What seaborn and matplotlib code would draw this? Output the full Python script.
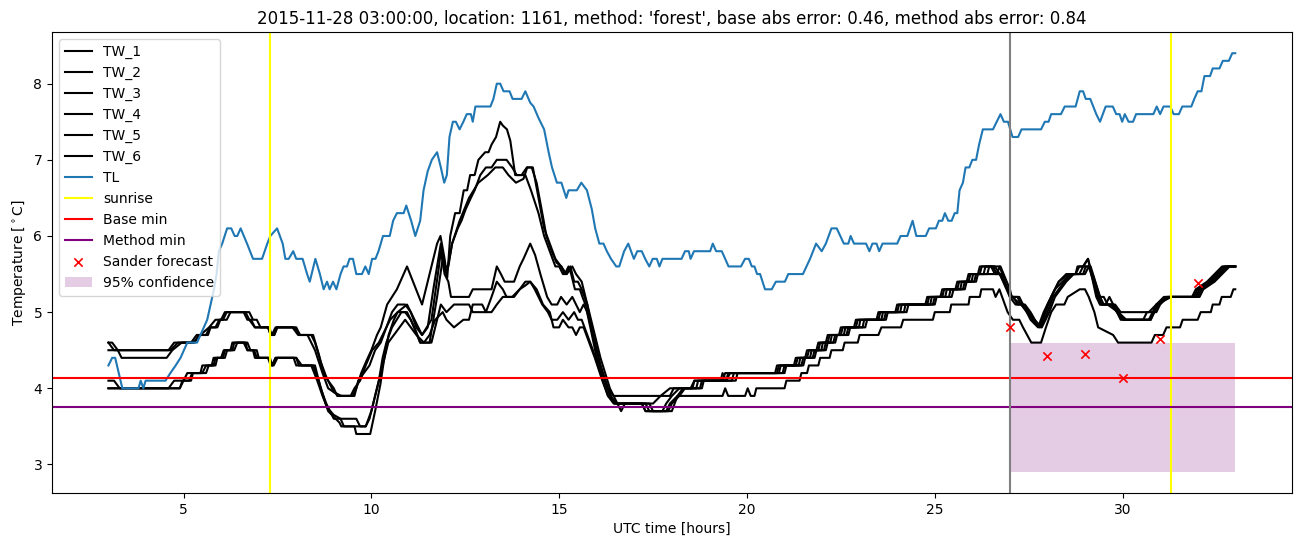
import matplotlib
matplotlib.use("Agg")
import matplotlib.pyplot as plt
import seaborn as sns
import pandas as pd

# ---------------- data (hours UTC, degC) ----------------
TL = [(3.0,4.3),(3.1,4.4),(3.18,4.4),(3.37,4.0),(3.8,4.0),(3.86,4.1),(3.93,4.0),(3.99,4.1),(4.52,4.1),
      (4.65,4.2),(4.79,4.3),(4.92,4.4),(5.01,4.5),(5.1,4.6),(5.36,4.6),(5.45,4.7),(5.54,4.8),(5.63,4.9),
      (5.72,5.1),(5.81,5.3),(5.88,5.5),(5.94,5.8),(6.03,5.9),(6.16,6.1),(6.27,6.1),(6.36,6.0),(6.43,6.0),
      (6.52,6.1),(6.69,5.9),(6.85,5.7),(7.09,5.7),(7.23,5.9),(7.31,6.0),(7.49,6.1),(7.64,5.9),(7.71,5.7),
      (7.80,5.7),(7.92,5.8),(8.0,5.7),(8.17,5.7),(8.29,5.5),(8.36,5.4),(8.51,5.7),(8.63,5.5),(8.73,5.3),
      (8.82,5.4),(8.89,5.3),(8.98,5.4),(9.07,5.3),(9.18,5.5),(9.26,5.6),(9.35,5.6),(9.42,5.7),(9.51,5.7),
      (9.60,5.5),(9.75,5.5),(9.84,5.6),(9.93,5.5),(10.02,5.7),(10.11,5.7),(10.19,5.8),(10.31,6.0),
      (10.49,6.0),(10.58,6.2),(10.68,6.3),(10.86,6.3),(10.93,6.4),(11.06,6.2),(11.17,6.0),(11.30,6.2),
      (11.39,6.6),(11.50,6.85),(11.61,7.0),(11.75,7.1),(11.85,6.9),(11.94,6.7),(12.01,6.8),(12.08,7.3),
      (12.17,7.5),(12.25,7.5),(12.35,7.4),(12.45,7.5),(12.54,7.6),(12.65,7.6),(12.70,7.5),(12.77,7.7),
      (13.17,7.7),(13.25,7.8),(13.34,8.0),(13.43,8.0),(13.52,7.9),(13.68,7.9),(13.76,7.8),(14.0,7.8),
      (14.1,7.9),(14.23,7.75),(14.32,7.7),(14.45,7.55),(14.60,7.4),(14.72,7.1),(14.81,6.9),(14.94,6.7),
      (15.06,6.7),(15.19,6.5),(15.25,6.6),(15.47,6.6),(15.59,6.7),(15.74,6.6),(15.87,6.35),(15.96,6.1),
      (16.07,5.9),(16.18,5.9),(16.27,5.8),(16.38,5.7),(16.52,5.6),(16.6,5.6),(16.73,5.8),(16.84,5.9),
      (16.99,5.7),(17.08,5.8),(17.2,5.8),(17.29,5.7),(17.40,5.6),(17.49,5.7),(17.6,5.7),(17.67,5.6),
      (17.75,5.7),(18.26,5.7),(18.35,5.8),(18.45,5.8),(18.50,5.7),(18.59,5.8),(19.02,5.8),(19.09,5.9),
      (19.18,5.8),(19.33,5.8),(19.51,5.6),(19.84,5.6),(19.95,5.7),(20.05,5.7),(20.13,5.6),(20.2,5.6),
      (20.27,5.5),(20.35,5.5),(20.48,5.3),(20.66,5.3),(20.77,5.4),(21.01,5.4),(21.10,5.5),(21.49,5.5),
      (21.68,5.7),(21.84,5.9),(21.99,5.8),(22.1,5.9),(22.25,6.1),(22.39,6.1),(22.58,5.9),(22.7,5.9),
      (22.76,6.0),(22.85,5.9),(23.17,5.9),(23.26,5.8),(23.34,5.9),(23.45,5.9),(23.52,5.8),(23.61,5.9),
      (24.0,5.9),(24.09,6.0),(24.27,6.0),(24.41,6.2),(24.51,6.0),(24.76,6.0),(24.85,6.1),(25.03,6.1),
      (25.11,6.2),(25.2,6.2),(25.27,6.3),(25.36,6.2),(25.45,6.2),(25.53,6.3),(25.6,6.3),(25.66,6.6),
      (25.75,6.7),(25.82,6.9),(25.92,6.9),(26.0,7.0),(26.1,7.0),(26.18,7.2),(26.28,7.4),(26.55,7.4),
      (26.75,7.6),(26.84,7.5),(26.95,7.5),(27.07,7.3),(27.22,7.3),(27.31,7.4),(27.83,7.4),(27.93,7.5),
      (28.03,7.5),(28.10,7.6),(28.36,7.6),(28.46,7.7),(28.75,7.7),(28.86,7.9),(28.95,7.9),(29.02,7.8),
      (29.14,7.8),(29.30,7.6),(29.40,7.5),(29.55,7.7),(29.74,7.7),(29.83,7.6),(29.92,7.6),(29.99,7.5),
      (30.06,7.6),(30.16,7.5),(30.28,7.5),(30.36,7.6),(30.82,7.6),(30.91,7.7),(31.0,7.6),(31.09,7.7),
      (31.27,7.7),(31.36,7.6),(31.50,7.6),(31.59,7.7),(31.83,7.7),(31.91,7.8),(32.0,7.9),(32.1,7.9),
      (32.18,8.1),(32.33,8.1),(32.40,8.2),(32.58,8.2),(32.67,8.3),(32.83,8.3),(32.92,8.4),(33.0,8.4)]

TW_1 = [(3.0,4.6),(3.1,4.6),(3.25,4.5),(3.35,4.4),(4.55,4.4),(4.7,4.5),(4.95,4.6),(5.3,4.6),(5.4,4.7),
        (5.65,4.7),(5.72,4.8),(5.9,4.8),(5.98,4.9),(6.15,4.9),(6.25,5.0),(6.75,5.0),(6.85,4.9),(6.95,4.9),
        (7.05,4.8),(7.25,4.8),(7.32,4.7),(7.4,4.7),(7.48,4.8),(8.0,4.8),(8.1,4.7),(8.45,4.7),(8.6,4.45),
        (8.73,4.2),(8.85,4.1),(9.0,4.0),(9.09,3.9),(9.5,3.9),(9.6,4.0),(9.73,4.2),(9.86,4.35),(10.0,4.5),
        (10.15,4.7),(10.25,4.8),(10.42,5.1),(10.68,5.3),(10.95,5.6),(11.15,5.35),(11.35,5.1),(11.55,5.5),
        (11.75,5.9),(11.84,6.0),(11.95,5.7),(12.02,5.45),(12.1,6.0),(12.23,6.3),(12.35,6.3),(12.46,6.6),
        (12.55,6.6),(12.63,6.8),(12.75,6.8),(12.85,7.0),(13.03,7.1),(13.12,7.1),(13.2,7.2),(13.32,7.3),
        (13.43,7.5),(13.5,7.45),(13.61,7.4),(13.7,7.25),(13.83,6.8),(14.0,6.8),(14.14,6.9),(14.27,6.9),
        (14.4,6.7),(14.57,6.25),(14.66,6.0),(14.8,5.8),(14.93,5.65),(15.06,5.6),(15.15,5.5),(15.25,5.6),
        (15.32,5.5),(15.42,5.3),(15.55,5.3),(15.62,5.2),(15.7,5.1),(15.83,4.8),(16.0,4.4),(16.29,4.0),
        (16.47,3.8),(17.5,3.8),(17.7,3.9),(17.95,4.0),(18.5,4.0),(18.6,4.1),(19.35,4.1),(19.42,4.2),
        (20.8,4.2),(20.85,4.3),(21.3,4.3),(21.35,4.4),(21.6,4.4),(21.65,4.5),(21.9,4.5),(21.95,4.6),
        (22.15,4.6),(22.2,4.7),(22.5,4.7),(22.55,4.8),(22.9,4.8),(22.95,4.9),(23.5,4.9),(23.55,5.0),
        (24.0,5.0),(24.05,5.1),(24.8,5.1),(24.85,5.2),(25.2,5.2),(25.25,5.3),(25.6,5.3),(25.65,5.4),
        (25.9,5.4),(25.95,5.5),(26.2,5.5),(26.25,5.6),(26.55,5.6),(26.65,5.5),(26.73,5.6),(27.0,5.2),
        (27.1,5.2),(27.2,5.1),(27.4,5.1),(27.55,5.0),(27.78,4.8),(28.0,5.1),(28.3,5.4),(28.55,5.5),
        (28.75,5.5),(28.85,5.6),(28.95,5.6),(29.08,5.7),(29.4,5.1),(29.6,5.1),(29.88,5.0),(30.1,4.9),
        (30.75,4.9),(30.9,5.1),(31.17,5.2),(31.9,5.2),(32.0,5.3),(32.3,5.4),(32.5,5.5),(32.7,5.6),(33.0,5.6)]

TW_2 = [(3.0,4.5),(4.6,4.5),(4.75,4.6),(5.25,4.6),(5.45,4.7),(5.68,4.8),(5.85,4.9),(6.0,4.9),(6.1,5.0),
        (6.65,5.0),(6.75,4.9),(6.9,4.8),(7.28,4.8),(7.35,4.7),(7.45,4.8),(7.95,4.8),(8.1,4.7),(8.4,4.7),
        (8.5,4.6),(8.65,4.35),(8.8,4.15),(9.0,3.95),(9.15,3.9),(9.45,3.9),(9.55,4.0),(9.7,4.1),(9.85,4.3),
        (10.02,4.5),(10.2,4.6),(10.3,4.7),(10.5,4.9),(10.7,5.0),(10.95,5.1),(11.15,4.9),(11.35,4.7),
        (11.5,4.8),(11.65,5.3),(11.85,5.9),(11.95,5.6),(12.05,5.6),(12.15,5.9),(12.3,6.1),(12.4,6.2),
        (12.51,6.35),(12.65,6.5),(12.75,6.6),(12.9,6.8),(13.05,6.9),(13.2,6.9),(13.34,7.0),(13.6,7.0),
        (13.75,6.9),(13.87,6.8),(14.1,6.8),(14.25,6.6),(14.45,6.3),(14.6,6.0),(14.75,5.8),(14.9,5.6),
        (15.0,5.6),(15.1,5.5),(15.2,5.5),(15.3,5.6),(15.4,5.4),(15.5,5.4),(15.6,5.3),(15.75,5.1),(15.9,4.7),
        (16.1,4.3),(16.35,3.9),(16.55,3.8),(17.2,3.8),(17.3,3.7),(17.75,3.7),(17.85,3.8),(18.0,3.9),
        (18.2,4.0),(18.65,4.0),(18.7,4.1),(19.45,4.1),(19.5,4.2),(20.85,4.2),(20.9,4.3),(21.38,4.3),
        (21.42,4.4),(21.68,4.4),(21.72,4.5),(21.98,4.5),(22.02,4.6),(22.22,4.6),(22.26,4.7),(22.58,4.7),
        (22.62,4.8),(22.98,4.8),(23.02,4.9),(23.58,4.9),(23.62,5.0),(24.08,5.0),(24.12,5.1),(24.88,5.1),
        (24.92,5.2),(25.28,5.2),(25.32,5.3),(25.68,5.3),(25.72,5.4),(25.98,5.4),(26.02,5.5),(26.3,5.5),
        (26.35,5.6),(26.5,5.6),(26.6,5.5),(26.73,5.5),(27.05,5.2),(27.2,5.2),(27.3,5.1),(27.45,5.0),
        (27.6,4.9),(27.8,4.8),(27.95,5.0),(28.1,5.2),(28.2,5.3),(28.4,5.4),(28.6,5.5),(28.85,5.5),
        (28.95,5.6),(29.1,5.6),(29.35,5.2),(29.45,5.1),(29.7,5.1),(29.85,5.0),(30.0,4.9),(30.55,4.9),
        (30.65,5.0),(30.9,5.0),(31.0,5.1),(31.2,5.2),(31.95,5.2),(32.05,5.3),(32.35,5.4),(32.55,5.5),
        (32.75,5.6),(33.0,5.6)]

TW_3 = [(3.0,4.1),(3.15,4.1),(3.3,4.0),(4.9,4.0),(5.0,4.1),(5.2,4.1),(5.25,4.2),(5.6,4.2),(5.67,4.3),
        (5.85,4.3),(5.9,4.4),(6.1,4.4),(6.16,4.5),(6.35,4.5),(6.43,4.6),(6.7,4.6),(6.78,4.5),(6.95,4.5),
        (7.0,4.4),(7.27,4.4),(7.36,4.3),(7.45,4.4),(8.0,4.4),(8.07,4.3),(8.4,4.3),(8.56,4.1),(8.7,3.9),
        (8.82,3.75),(9.0,3.65),(9.18,3.6),(9.27,3.5),(9.55,3.5),(9.6,3.4),(9.97,3.4),(10.1,3.7),
        (10.24,4.05),(10.33,4.35),(10.46,4.7),(10.6,4.9),(10.7,5.0),(10.9,5.0),(11.05,4.9),(11.3,4.6),
        (11.55,4.6),(11.75,5.2),(11.9,5.7),(12.0,5.5),(12.15,5.9),(12.35,6.2),(12.6,6.5),(12.85,6.7),
        (13.1,6.8),(13.3,6.9),(13.5,6.9),(13.65,6.8),(13.85,6.7),(14.05,6.75),(14.15,6.9),(14.3,6.9),
        (14.45,6.5),(14.6,6.1),(14.75,5.9),(14.9,5.7),(15.05,5.6),(15.2,5.5),(15.35,5.6),(15.45,5.5),
        (15.6,5.4),(15.75,5.1),(15.9,4.8),(16.1,4.4),(16.35,4.0),(16.55,3.8),(16.65,3.7),(16.75,3.8),
        (17.3,3.8),(17.4,3.7),(17.85,3.7),(17.95,3.8),(18.15,3.9),(18.3,4.0),(18.75,4.0),(18.8,4.1),
        (19.6,4.1),(19.65,4.2),(20.95,4.2),(21.0,4.3),(21.45,4.3),(21.5,4.4),(21.75,4.4),(21.8,4.5),
        (22.05,4.5),(22.1,4.6),(22.3,4.6),(22.35,4.7),(22.65,4.7),(22.7,4.8),(23.08,4.8),(23.12,4.9),
        (23.65,4.9),(23.7,5.0),(24.18,5.0),(24.22,5.1),(24.95,5.1),(25.0,5.2),(25.38,5.2),(25.42,5.3),
        (25.75,5.3),(25.8,5.4),(26.05,5.4),(26.1,5.5),(26.4,5.5),(26.45,5.6),(26.75,5.6),(27.0,5.3),
        (27.05,5.2),(27.25,5.2),(27.35,5.1),(27.5,5.0),(27.65,4.9),(27.83,4.8),(28.0,5.0),(28.15,5.2),
        (28.3,5.3),(28.45,5.4),(28.65,5.5),(28.95,5.5),(29.02,5.6),(29.15,5.6),(29.4,5.2),(29.5,5.1),
        (29.75,5.1),(29.9,5.0),(30.05,4.9),(30.75,4.9),(30.85,5.0),(30.95,5.1),(31.25,5.2),(32.0,5.2),
        (32.1,5.3),(32.4,5.4),(32.6,5.5),(32.8,5.6),(33.0,5.6)]

TW_4 = [(3.0,4.6),(3.15,4.5),(4.65,4.5),(4.85,4.6),(5.2,4.6),(5.35,4.7),(5.6,4.7),(5.7,4.8),(5.85,4.8),
        (5.95,4.9),(6.05,4.9),(6.15,5.0),(6.6,5.0),(6.7,4.9),(6.8,4.9),(6.9,4.8),(7.25,4.8),(7.32,4.7),
        (7.42,4.7),(7.5,4.8),(7.9,4.8),(8.05,4.7),(8.3,4.7),(8.5,4.5),(8.7,4.2),(8.85,4.0),(9.0,3.95),
        (9.2,3.9),(9.55,3.9),(9.65,4.1),(9.8,4.2),(9.95,4.3),(10.1,4.5),(10.25,4.6),(10.4,4.8),(10.55,5.0),
        (10.7,5.1),(10.9,5.1),(11.05,5.0),(11.2,4.8),(11.35,4.7),(11.6,4.9),(11.8,5.6),(11.85,5.8),
        (11.95,5.5),(12.05,5.4),(12.12,5.2),(12.6,5.2),(12.7,5.3),(13.2,5.3),(13.34,5.6),(13.45,5.5),
        (13.55,5.4),(13.8,5.4),(13.95,5.6),(14.05,5.7),(14.23,5.9),(14.36,5.75),(14.5,5.5),(14.68,5.2),
        (14.8,5.1),(14.95,5.1),(15.05,5.2),(15.2,5.1),(15.35,5.2),(15.45,5.1),(15.55,5.0),(15.65,5.1),
        (15.75,5.0),(15.9,4.7),(16.1,4.3),(16.3,4.0),(16.45,3.9),(17.95,3.9),(18.05,4.0),(18.55,4.0),
        (18.6,4.1),(19.3,4.1),(19.35,4.2),(19.45,4.1),(19.55,4.2),(20.75,4.2),(20.8,4.3),(21.25,4.3),
        (21.3,4.4),(21.55,4.4),(21.6,4.5),(21.85,4.5),(21.9,4.6),(22.1,4.6),(22.15,4.7),(22.45,4.7),
        (22.5,4.8),(22.85,4.8),(22.9,4.9),(23.45,4.9),(23.5,5.0),(23.95,5.0),(24.0,5.1),(24.75,5.1),
        (24.8,5.2),(25.15,5.2),(25.2,5.3),(25.55,5.3),(25.6,5.4),(25.85,5.4),(25.9,5.5),(26.15,5.5),
        (26.2,5.6),(26.6,5.6),(26.73,5.5),(27.0,5.2),(27.15,5.1),(27.35,5.1),(27.45,5.0),(27.55,4.9),
        (27.75,4.8),(27.9,5.0),(28.0,5.1),(28.1,5.2),(28.2,5.3),(28.3,5.4),(28.5,5.5),(28.75,5.5),
        (28.8,5.6),(28.95,5.6),(29.08,5.7),(29.3,5.2),(29.4,5.1),(29.55,5.1),(29.65,5.2),(29.75,5.1),
        (29.85,5.0),(29.95,4.9),(30.7,4.9),(30.8,5.0),(30.9,5.1),(31.1,5.2),(31.85,5.2),(31.95,5.3),
        (32.25,5.4),(32.45,5.5),(32.65,5.6),(33.0,5.6)]

TW_5 = [(3.0,4.0),(4.6,4.0),(4.75,4.1),(5.0,4.1),(5.1,4.2),(5.45,4.2),(5.5,4.3),(5.8,4.3),(5.85,4.4),
        (6.05,4.4),(6.1,4.5),(6.3,4.5),(6.35,4.6),(6.65,4.6),(6.7,4.5),(6.88,4.5),(6.95,4.4),(7.25,4.4),
        (7.32,4.3),(7.4,4.3),(7.5,4.4),(7.93,4.4),(8.0,4.3),(8.45,4.3),(8.6,4.1),(8.75,3.85),(8.85,3.7),
        (9.05,3.6),(9.15,3.55),(9.2,3.5),(9.85,3.5),(9.95,3.6),(10.05,3.8),(10.2,4.1),(10.3,4.4),(10.4,4.6),
        (10.55,4.8),(10.8,5.0),(10.95,5.0),(11.15,4.8),(11.3,4.6),(11.6,4.6),(11.75,4.9),(11.85,5.1),
        (12.0,5.0),(12.2,5.1),(12.6,5.1),(12.7,5.0),(13.05,5.0),(13.2,5.2),(13.34,5.4),(13.5,5.3),
        (13.6,5.2),(13.8,5.2),(13.95,5.3),(14.1,5.35),(14.23,5.4),(14.35,5.3),(14.55,5.1),(14.7,5.0),
        (14.8,4.9),(14.95,4.9),(15.1,5.0),(15.25,4.9),(15.4,5.0),(15.5,4.9),(15.6,4.9),(15.75,4.7),
        (15.9,4.5),(16.1,4.2),(16.3,3.9),(16.45,3.8),(17.4,3.8),(17.5,3.7),(17.9,3.7),(18.0,3.8),
        (18.2,3.9),(18.35,4.0),(18.8,4.0),(18.85,4.1),(19.7,4.1),(19.75,4.2),(21.0,4.2),(21.05,4.3),
        (21.5,4.3),(21.55,4.4),(21.8,4.4),(21.85,4.5),(22.1,4.5),(22.15,4.6),(22.35,4.6),(22.4,4.7),
        (22.7,4.7),(22.75,4.8),(23.15,4.8),(23.2,4.9),(23.7,4.9),(23.75,5.0),(24.25,5.0),(24.3,5.1),
        (25.0,5.1),(25.05,5.2),(25.45,5.2),(25.5,5.3),(25.8,5.3),(25.85,5.4),(26.1,5.4),(26.15,5.5),
        (26.75,5.5),(27.05,5.2),(27.3,5.1),(27.5,5.0),(27.65,4.9),(27.85,4.8),(28.05,5.0),(28.2,5.2),
        (28.35,5.3),(28.5,5.4),(28.7,5.5),(29.0,5.5),(29.1,5.6),(29.2,5.5),(29.4,5.2),(29.5,5.2),
        (29.6,5.1),(29.8,5.1),(29.95,5.0),(30.7,5.0),(30.9,5.1),(31.3,5.2),(32.05,5.2),(32.15,5.3),
        (32.45,5.4),(32.65,5.5),(32.85,5.6),(33.0,5.6)]

TW_6 = [(3.0,4.0),(4.9,4.0),(4.97,4.1),(5.15,4.1),(5.23,4.2),(5.5,4.2),(5.6,4.3),(5.75,4.3),(5.8,4.4),
        (6.0,4.4),(6.07,4.5),(6.25,4.5),(6.3,4.6),(6.6,4.6),(6.7,4.5),(6.85,4.5),(6.9,4.4),(7.3,4.4),
        (7.36,4.3),(7.45,4.4),(8.0,4.4),(8.15,4.3),(8.5,4.3),(8.65,4.0),(8.8,3.8),(8.9,3.7),(9.0,3.6),
        (9.6,3.6),(9.7,3.5),(9.85,3.5),(10.0,3.7),(10.15,4.0),(10.3,4.3),(10.45,4.6),(10.6,4.7),(10.75,4.8),
        (10.9,4.9),(11.05,4.8),(11.2,4.7),(11.4,4.6),(11.55,4.7),(11.7,4.9),(11.9,5.0),(12.0,4.9),
        (12.2,4.8),(12.45,4.9),(12.6,4.9),(12.7,5.1),(12.95,5.1),(13.05,5.0),(13.2,5.0),(13.34,5.1),
        (13.5,5.2),(13.75,5.2),(13.95,5.3),(14.1,5.4),(14.23,5.4),(14.4,5.3),(14.57,5.1),(14.75,5.0),
        (14.85,4.8),(15.0,4.8),(15.1,4.9),(15.25,4.8),(15.35,4.8),(15.45,4.7),(15.55,4.8),(15.65,4.8),
        (15.8,4.6),(15.95,4.4),(16.15,4.1),(16.3,3.9),(16.5,3.8),(17.2,3.8),(17.3,3.7),(18.0,3.7),
        (18.15,3.9),(19.35,3.9),(19.42,4.0),(19.5,3.9),(19.95,3.9),(20.02,4.0),(20.1,3.9),(20.2,3.9),
        (20.25,4.0),(21.0,4.0),(21.05,4.1),(21.4,4.1),(21.45,4.2),(21.6,4.2),(21.65,4.3),(21.9,4.3),
        (21.95,4.4),(22.2,4.4),(22.25,4.5),(22.55,4.5),(22.6,4.6),(22.95,4.6),(23.0,4.7),(23.5,4.7),
        (23.58,4.8),(24.1,4.8),(24.16,4.9),(24.95,4.9),(25.0,5.0),(25.4,5.0),(25.44,5.1),(25.9,5.1),
        (25.93,5.2),(26.2,5.2),(26.24,5.3),(26.55,5.3),(26.62,5.2),(26.72,5.3),(26.94,5.0),(27.08,4.9),
        (27.25,4.9),(27.35,4.8),(27.57,4.6),(27.83,4.6),(27.96,4.8),(28.1,5.0),(28.23,5.1),(28.45,5.1),
        (28.54,5.2),(28.86,5.3),(29.0,5.3),(29.1,5.2),(29.25,5.0),(29.35,4.8),(29.75,4.7),(29.88,4.6),
        (30.77,4.6),(30.86,4.7),(31.08,4.7),(31.17,4.8),(31.53,4.8),(31.6,4.9),(32.0,4.9),(32.08,5.0),
        (32.35,5.0),(32.4,5.1),(32.58,5.1),(32.64,5.2),(32.88,5.2),(32.95,5.3),(33.0,5.3)]

tw_series = {"TW_1": TW_1, "TW_2": TW_2, "TW_3": TW_3, "TW_4": TW_4, "TW_5": TW_5, "TW_6": TW_6}

sunrise_hours = [7.3, 31.3]
base_min = 4.14
method_min = 3.76
forecast_start = 27.0
sander_hours = [27, 28, 29, 30, 31, 32]
sander_values = [4.80, 4.43, 4.45, 4.14, 4.65, 5.38]
conf_hours = [27.0, 33.0]
conf_low = 2.9
conf_high = 4.6

title = ("2015-11-28 03:00:00, location: 1161, method: 'forest', "
         "base abs error: 0.46, method abs error: 0.84")

# ---------------- plot ----------------
fig = plt.figure(figsize=(13.02, 5.47), dpi=100)
ax = fig.add_axes([0.040, 0.0987, 0.952, 0.8423])

for name, pts in tw_series.items():
    df = pd.DataFrame(pts, columns=["t", "v"])
    sns.lineplot(data=df, x="t", y="v", ax=ax, color="black", label=name,
                 estimator=None, sort=False, linewidth=1.5)

df_tl = pd.DataFrame(TL, columns=["t", "v"])
sns.lineplot(data=df_tl, x="t", y="v", ax=ax, color="#1f77b4", label="TL",
             estimator=None, sort=False, linewidth=1.5)

for i, s in enumerate(sunrise_hours):
    ax.axvline(s, color="yellow", lw=1.5, label="sunrise" if i == 0 else None)
ax.axhline(base_min, color="red", lw=1.5, label="Base min")
ax.axhline(method_min, color="purple", lw=1.5, label="Method min")
ax.axvline(forecast_start, color="grey", lw=1.5)

df_s = pd.DataFrame({"t": sander_hours, "v": sander_values})
sns.scatterplot(data=df_s, x="t", y="v", ax=ax, marker="x", color="red", s=36,
                linewidth=1.2, label="Sander forecast", zorder=3)

ax.fill_between(conf_hours, conf_low, conf_high, color="purple", alpha=0.2,
                linewidth=0, label="95% confidence")

ax.set_xlabel("UTC time [hours]")
ax.set_ylabel("Temperature [$^\\circ$C]")
ax.set_title(title)
ax.legend(loc="upper left")

fig.savefig("out.png", dpi=100)
